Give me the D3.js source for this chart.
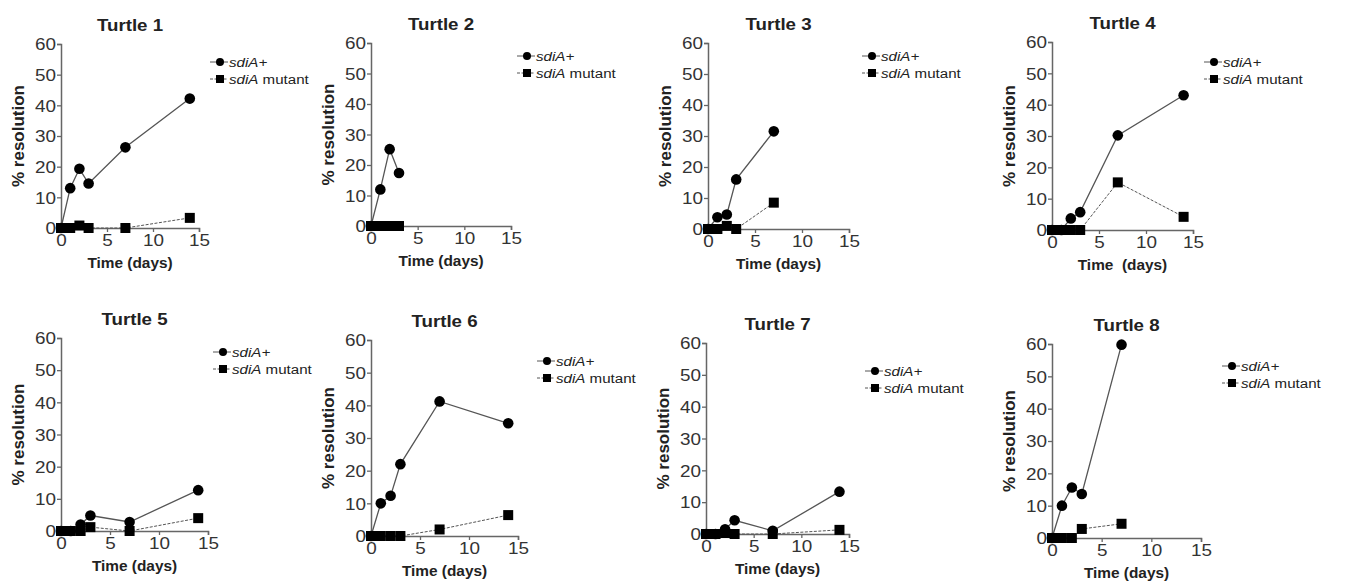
<!DOCTYPE html>
<html lang="en">
<head>
<meta charset="UTF-8" />
<title>Turtle resolution</title>
<script src="https://cdn.jsdelivr.net/npm/d3@7"></script>
<style>
  body { margin: 0; background: #fff; }
  svg text { font-family: Arial, "Liberation Sans", sans-serif; }
</style>
</head>
<body>
<div id="chart"></div>
<script>
// data
const turtles = ['Turtle 1','Turtle 2','Turtle 3','Turtle 4','Turtle 5','Turtle 6','Turtle 7','Turtle 8'];
const days = [
  [0,1,2,3,7,14],
  [0,1,2,3],
  [0,1,2,3,7],
  [0,1,2,3,7,14],
  [0,1,2,3,7,14],
  [0,1,2,3,7,14],
  [0,1,2,3,7,14],
  [0,1,2,3,7]
];
const wildType = [
  [0,13,19.3,14.5,26.3,42.2],
  [0,12,25.2,17.4],
  [0,3.8,4.7,16,31.5],
  [0,0,3.7,5.7,30.2,43],
  [0,0,2,4.8,2.8,12.7],
  [0,10,12.3,22,41.2,34.5],
  [0,0,1.5,4.3,1,13.3],
  [0,10,15.6,13.6,59.8]
];
const mutant = [
  [0,0,0.8,0,0,3.3],
  [0,0,0,0],
  [0,0,1,0,8.5],
  [0,0,0,0,15.2,4.2],
  [0,0,0,1.2,0,4],
  [0,0,0,0,2,6.4],
  [0,0,0.3,0,0,1.3],
  [0,0,0,2.8,4.4]
];
const xTicks = [0,5,10,15];
const yTicks = [0,10,20,30,40,50,60];
const xLabels = ['Time (days)','Time (days)','Time (days)','Time  (days)','Time (days)','Time (days)','Time (days)','Time (days)'];

// panel placement: left, top, right, bottom of plot area + legend anchor
const layout = [
  {l:61,  t:44,  r:199,  b:228, lx:220,  ly:62},
  {l:371, t:43,  r:511,  b:226, lx:527,  ly:56},
  {l:708, t:43,  r:849,  b:229, lx:872,  ly:56},
  {l:1052,t:42,  r:1193, b:230, lx:1214, ly:62},
  {l:61,  t:338, r:208,  b:531, lx:223,  ly:352},
  {l:371, t:340, r:518,  b:536, lx:547,  ly:361},
  {l:706, t:343, r:849,  b:534, lx:875,  ly:371},
  {l:1052,t:344, r:1201, b:538, lx:1232, ly:366}
];

const W = 1347, H = 585;
const axisCol = '#666', lineCol = '#555', textCol = '#222';
const tickSX = 1.18;   // the source figure is stretched sideways

const svg = d3.select('#chart').append('svg')
  .attr('width', W).attr('height', H);

function wideText(g, x, y, sx, anchor) {
  return g.append('text')
    .attr('transform', `translate(${x},${y}) scale(${sx},1)`)
    .attr('text-anchor', anchor).attr('fill', textCol);
}

turtles.forEach((name, i) => {
  const p = layout[i];
  const x = d3.scaleLinear().domain([0, 15]).range([p.l, p.r]);
  const y = d3.scaleLinear().domain([0, 60]).range([p.b, p.t]);
  const g = svg.append('g');

  // axes
  const ax = g.append('g').attr('transform', `translate(0,${p.b})`)
    .call(d3.axisBottom(x).tickValues(xTicks).tickSize(4).tickPadding(3));
  const ay = g.append('g').attr('transform', `translate(${p.l},0)`)
    .call(d3.axisLeft(y).tickValues(yTicks).tickSize(4).tickPadding(1));
  [ax, ay].forEach(a => {
    a.select('.domain').attr('stroke', axisCol).attr('stroke-width', 1.5);
    a.selectAll('.tick line').attr('stroke', axisCol).attr('stroke-width', 1.3);
    a.selectAll('.tick text').attr('fill', '#333').style('font-size', '16px')
      .each(function () {
        const t = d3.select(this);
        const tx = +t.attr('x') || 0;
        t.attr('x', tx / tickSX).attr('transform', `scale(${tickSX},1)`);
      });
  });
  ay.selectAll('.tick text').attr('dy', '0.36em');

  // titles
  wideText(g, (p.l + p.r) / 2, p.t - 13, 1.1, 'middle')
    .style('font-size', '17px').style('font-weight', 'bold').text(name);
  wideText(g, (p.l + p.r) / 2, p.b + 40, 1.1, 'middle')
    .style('font-size', '14px').style('font-weight', 'bold')
    .style('white-space', 'pre').text(xLabels[i]);
  g.append('text')
    .attr('transform', `translate(${p.l - 37},${(p.t + p.b) / 2}) rotate(-90)`)
    .attr('text-anchor', 'middle').style('font-size', '17px').style('font-weight', 'bold')
    .attr('fill', textCol).text('% resolution');

  // series
  const ptsWT = days[i].map((d, k) => [x(d), y(wildType[i][k])]);
  const ptsMU = days[i].map((d, k) => [x(d), y(mutant[i][k])]);
  const line = d3.line();
  g.append('path').attr('d', line(ptsMU)).attr('fill', 'none')
    .attr('stroke', lineCol).attr('stroke-width', 1).attr('stroke-dasharray', '3,1.5');
  g.append('path').attr('d', line(ptsWT)).attr('fill', 'none')
    .attr('stroke', lineCol).attr('stroke-width', 1.3);
  g.selectAll('rect.mu').data(ptsMU).join('rect').attr('class', 'mu')
    .attr('x', d => d[0] - 5).attr('y', d => d[1] - 5)
    .attr('width', 10).attr('height', 10).attr('fill', '#000');
  g.selectAll('circle.wt').data(ptsWT).join('circle').attr('class', 'wt')
    .attr('cx', d => d[0]).attr('cy', d => d[1]).attr('r', 5.3).attr('fill', '#000');

  // legend
  const rows = [
    {shape: 'circle', dash: null, it: 'sdiA+', rest: ''},
    {shape: 'rect', dash: '3,1.5', it: 'sdiA', rest: ' mutant'}
  ];
  rows.forEach((r, k) => {
    const cy = p.ly + k * 17;
    g.append('line').attr('x1', p.lx - 10).attr('x2', p.lx + 8).attr('y1', cy).attr('y2', cy)
      .attr('stroke', lineCol).attr('stroke-width', 1).attr('stroke-dasharray', r.dash);
    if (r.shape === 'circle') {
      g.append('circle').attr('cx', p.lx).attr('cy', cy).attr('r', 4).attr('fill', '#000');
    } else {
      g.append('rect').attr('x', p.lx - 4).attr('y', cy - 4).attr('width', 8).attr('height', 8).attr('fill', '#000');
    }
    const t = wideText(g, p.lx + 9, cy + 5, 1.12, 'start').style('font-size', '13.5px');
    t.append('tspan').style('font-style', 'italic').text(r.it);
    if (r.rest) t.append('tspan').text(r.rest);
  });
});
</script>
</body>
</html>
